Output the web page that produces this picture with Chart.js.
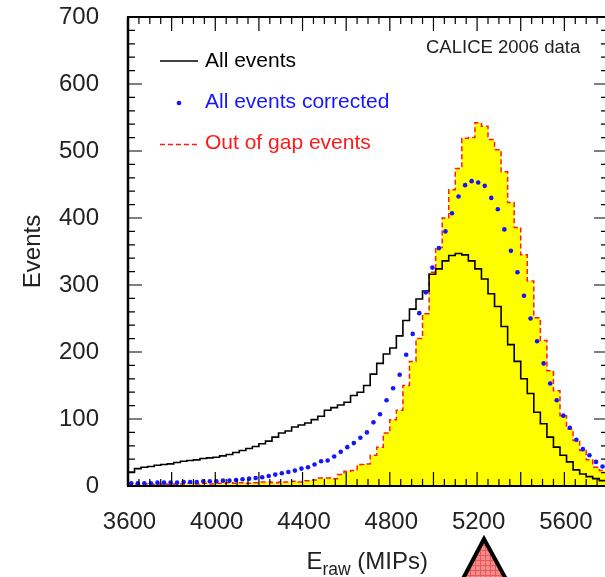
<!DOCTYPE html>
<html><head><meta charset="utf-8">
<script src="https://cdn.jsdelivr.net/npm/chart.js@4.4.1/dist/chart.umd.min.js"></script>
<style>
html,body{margin:0;padding:0;overflow:hidden;background:#fff;width:605px;height:577px}
#wrap{position:relative;width:612px;height:577px}
canvas{display:block}
</style>
</head><body><div id="wrap"><canvas id="c" width="612" height="577"></canvas></div>
<script>
// ---- data ----
const BIN_START = 3600;   // MIPs, left edge of first bin
const BIN_WIDTH = 30;     // MIPs per bin

const allEvents = [21,26,28,29,31,32,33,35,37,38,
  39,41,42,43,45,47,50,53,56,59,
  63,67,73,79,82,88,91,94,99,104,
  113,117,121,125,135,140,150,167,183,197,
  206,224,247,264,279,291,316,324,336,344,
  347,345,336,324,309,287,268,238,211,186,
  160,138,110,93,73,58,46,36,24,18,
  14,11,8,7];

const allEventsCorrected = [4,4,4,4,5,5,5,5,6,6,
  6,7,7,7,8,8,9,10,11,12,
  13,15,17,19,21,23,26,28,32,37,
  38,44,51,58,64,72,80,95,107,128,
  146,166,196,227,258,289,326,355,380,407,
  432,449,455,453,448,430,413,383,351,319,
  284,250,216,183,153,128,105,87,69,55,
  46,36,29,24];

const outOfGapEvents = [3,2,3,2,3,3,2,3,3,4,
  3,4,3,4,4,5,4,5,4,5,
  6,6,5,6,6,7,6,8,9,12,
  12,11,17,22,23,32,33,46,58,79,
  99,113,150,186,220,257,319,356,400,442,
  474,519,520,542,537,517,502,469,423,386,
  345,306,251,217,172,142,105,85,68,53,
  39,28,23,18];

const seriesNames = ['All events', 'All events corrected', 'Out of gap events'];
const xTickLabels = [3600, 4000, 4400, 4800, 5200, 5600];
const yTickLabels = [0, 100, 200, 300, 400, 500, 600, 700];
const X_MIN = 3600, X_MAX = 5800, Y_MIN = 0, Y_MAX = 700;
const xTitleMain = 'E', xTitleSub = 'raw', xTitleRest = ' (MIPs)';
const yTitle = 'Events';
const stampText = 'CALICE 2006 data';

// ---- helpers ----
function stepPoints(vals){
  const pts = vals.map((v,i)=>({x: BIN_START + i*BIN_WIDTH, y: v}));
  pts.push({x: BIN_START + vals.length*BIN_WIDTH, y: vals[vals.length-1]});
  return pts;
}
function centerPoints(vals){
  return vals.map((v,i)=>({x: BIN_START + (i+0.5)*BIN_WIDTH, y: v}));
}

const FONT = '"Liberation Sans", Arial, Helvetica, sans-serif';

const decor = {
  id: 'decor',
  afterDatasetsDraw(chart){
    const {ctx, chartArea: a, scales: {x, y}} = chart;
    ctx.save();
    // tick marks
    ctx.strokeStyle = '#000';
    ctx.lineWidth = 1.2;
    ctx.beginPath();
    for (let v = X_MIN; v <= X_MAX; v += 50){
      const px = x.getPixelForValue(v);
      const len = (v % 200 === 0) ? 14 : 7;
      ctx.moveTo(px, a.bottom); ctx.lineTo(px, a.bottom - len);
      ctx.moveTo(px, a.top); ctx.lineTo(px, a.top + len);
    }
    for (let v = Y_MIN; v <= Y_MAX; v += 20){
      const py = y.getPixelForValue(v);
      const len = (v % 100 === 0) ? 14 : 7;
      ctx.moveTo(a.left, py); ctx.lineTo(a.left + len, py);
      ctx.moveTo(a.right, py); ctx.lineTo(a.right - len, py);
    }
    ctx.stroke();
    // frame
    ctx.lineWidth = 2;
    ctx.strokeRect(a.left, a.top, a.right - a.left, a.bottom - a.top);
    ctx.lineWidth = 2.5;
    ctx.beginPath(); ctx.moveTo(a.left, a.top); ctx.lineTo(a.left, a.bottom); ctx.stroke();

    // tick labels
    ctx.fillStyle = '#222';
    ctx.font = '24px ' + FONT;
    ctx.textAlign = 'right'; ctx.textBaseline = 'middle';
    yTickLabels.forEach(v => ctx.fillText(String(v), 99, y.getPixelForValue(v) + 0.5));
    ctx.textAlign = 'center'; ctx.textBaseline = 'alphabetic';
    xTickLabels.forEach(v => ctx.fillText(String(v), x.getPixelForValue(v) + 1.5, 528.5));

    // axis titles
    ctx.save();
    ctx.translate(39.5, 251.5); ctx.rotate(-Math.PI/2);
    ctx.textAlign = 'center'; ctx.textBaseline = 'alphabetic';
    ctx.fillText(yTitle, 0, 0);
    ctx.restore();
    ctx.textAlign = 'left';
    let tx = 306.5;
    ctx.font = '24px ' + FONT;
    ctx.fillText(xTitleMain, tx, 569); tx += ctx.measureText(xTitleMain).width;
    ctx.font = '17.5px ' + FONT;
    ctx.fillText(xTitleSub, tx, 575); tx += ctx.measureText(xTitleSub).width;
    ctx.font = '24px ' + FONT;
    ctx.fillText(xTitleRest, tx, 569);

    // stamp
    ctx.font = '18.5px ' + FONT;
    ctx.fillStyle = '#222';
    ctx.fillText(stampText, 426, 53);

    // legend
    ctx.font = '21px ' + FONT;
    ctx.textBaseline = 'middle';
    ctx.strokeStyle = '#000'; ctx.lineWidth = 1.5; ctx.setLineDash([]);
    ctx.beginPath(); ctx.moveTo(160, 61); ctx.lineTo(198, 61); ctx.stroke();
    ctx.fillStyle = '#000'; ctx.fillText(seriesNames[0], 205, 61);
    ctx.fillStyle = '#1515ff';
    ctx.beginPath(); ctx.arc(179, 103, 2.3, 0, Math.PI*2); ctx.fill();
    ctx.fillText(seriesNames[1], 205, 102);
    ctx.strokeStyle = '#ff1a1a'; ctx.setLineDash([5,3]);
    ctx.beginPath(); ctx.moveTo(160, 144.5); ctx.lineTo(198, 144.5); ctx.stroke();
    ctx.setLineDash([]);
    ctx.fillStyle = '#ff1a1a'; ctx.fillText(seriesNames[2], 205, 143.5);

    // warning-like triangle decoration at bottom
    const pc = document.createElement('canvas'); pc.width = 5; pc.height = 5;
    const p = pc.getContext('2d');
    p.fillStyle = '#f58a8a'; p.fillRect(0,0,5,5);
    p.fillStyle = '#e45a5a'; p.fillRect(0,0,5,1); p.fillRect(0,0,1,5);
    ctx.fillStyle = ctx.createPattern(pc, 'repeat');
    ctx.beginPath();
    ctx.moveTo(484, 539); ctx.lineTo(457, 590); ctx.lineTo(512, 590); ctx.closePath();
    ctx.fill();
    ctx.strokeStyle = '#000'; ctx.lineWidth = 4; ctx.lineJoin = 'miter';
    ctx.stroke();
    ctx.restore();
  }
};

new Chart(document.getElementById('c'), {
  type: 'line',
  data: {
    datasets: [
      {
        label: seriesNames[2], data: stepPoints(outOfGapEvents), stepped: true,
        borderColor: '#ff1a1a', borderWidth: 1.5, borderDash: [5,3],
        backgroundColor: '#ffff00', fill: 'origin', pointRadius: 0, order: 3
      },
      {
        label: seriesNames[0], data: stepPoints(allEvents), stepped: true,
        borderColor: '#000', borderWidth: 1.6, fill: false, pointRadius: 0, order: 2
      },
      {
        label: seriesNames[1], data: centerPoints(allEventsCorrected), showLine: false,
        pointRadius: 2.3, pointBackgroundColor: '#1515ff', pointBorderWidth: 0,
        pointBorderColor: '#1515ff', fill: false, order: 1
      }
    ]
  },
  options: {
    responsive: false, animation: false, devicePixelRatio: 1,
    layout: { padding: { left: 128, top: 17, right: 1, bottom: 91 } },
    scales: {
      x: { type: 'linear', min: X_MIN, max: X_MAX, display: false },
      y: { type: 'linear', min: Y_MIN, max: Y_MAX, display: false }
    },
    plugins: { legend: { display: false }, tooltip: { enabled: false } }
  },
  plugins: [decor]
});
</script>
</body></html>
